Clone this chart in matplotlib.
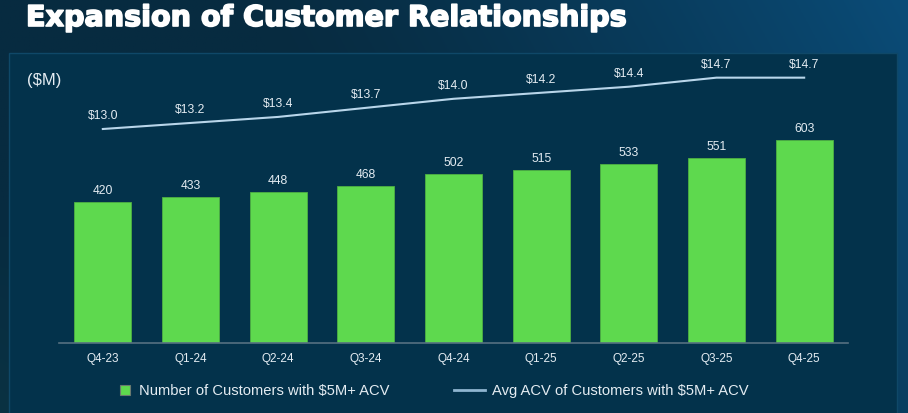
import numpy as np
import matplotlib
matplotlib.use("Agg")
import matplotlib.pyplot as plt
import matplotlib.patheffects as pe
from matplotlib.patches import Rectangle
from matplotlib.lines import Line2D
from matplotlib.colors import to_rgb

# data
quarters = ["Q4-23", "Q1-24", "Q2-24", "Q3-24", "Q4-24", "Q1-25", "Q2-25", "Q3-25", "Q4-25"]
customers = [420, 433, 448, 468, 502, 515, 533, 551, 603]
avg_acv = [13.0, 13.2, 13.4, 13.7, 14.0, 14.2, 14.4, 14.7, 14.7]
legend_labels = ["Number of Customers with $5M+ ACV", "Avg ACV of Customers with $5M+ ACV"]

W, H = 908, 414
green = "#5ed94e"
line_col = "#b9d6ea"
txt_col = "#e4ecf2"
font = "Liberation Sans"

fig = plt.figure(figsize=(W / 100, H / 100), dpi=100)

# background gradient
bg = fig.add_axes([0, 0, 1, 1])
bg.set_axis_off()
yy, xx = np.mgrid[0:1:200j, 0:1:400j]
base = np.array(to_rgb("#072b40"))
light = np.array(to_rgb("#0b5282"))
teal = np.array(to_rgb("#0e3d48"))
f = np.clip((xx - 0.35) * 1.2 + (1 - yy) * 0.3 - 0.2, 0, 1) ** 1.3
g = np.clip((0.25 - xx) * 2, 0, 1) * np.clip(yy - 0.5, 0, 1) * 1.5
img = base[None, None, :] * (1 - f[..., None]) + light[None, None, :] * f[..., None]
img = img * (1 - g[..., None]) + teal[None, None, :] * g[..., None]
bg.imshow(np.clip(img, 0, 1), extent=[0, 1, 0, 1], aspect="auto", origin="upper")
bg.set_xlim(0, 1)
bg.set_ylim(0, 1)

# panel
bg.add_patch(Rectangle((9 / W, -0.01), (897 - 9) / W, (H - 54) / H + 0.01,
                       facecolor="#03324b", edgecolor="#0f4868", lw=1))

title = fig.text(26 / W, 1 - 27 / H, "Expansion of Customer Relationships", color="white",
                 fontsize=18, fontfamily="DejaVu Sans", fontweight="bold",
                 va="baseline", ha="left",
                 path_effects=[pe.withStroke(linewidth=1.2, foreground="white")])
r = fig.canvas.get_renderer()
tw = title.get_window_extent(r).width
title.set_fontsize(18 * 602 / tw)

fig.text(27 / W, 1 - 81 / H, "($M)", color=txt_col, fontsize=12, fontfamily=font,
         va="center", ha="left")

# main axes
ax = fig.add_axes([59 / W, (H - 344) / H, (848 - 59) / W, (344 - 54) / H])
ax.patch.set_alpha(0)
x = np.arange(len(quarters))
bars = ax.bar(x, customers, width=0.65, color=green, edgecolor="#4fb043", lw=0.6, zorder=2)
ax.set_xlim(-0.5, 8.5)
ax.set_ylim(0, 290 / 0.3365)
for s in ["top", "right", "left"]:
    ax.spines[s].set_visible(False)
ax.spines["bottom"].set_color("#557080")
ax.spines["bottom"].set_linewidth(1.2)
ax.set_yticks([])
ax.set_xticks(x)
ax.set_xticklabels(quarters, color=txt_col, fontsize=8.5, fontfamily=font)
ax.tick_params(axis="x", length=0, pad=6.5)
for xi, v in zip(x, customers):
    ax.annotate(str(v), (xi, v), xytext=(0, 8.6), textcoords="offset points",
                ha="center", va="center", color=txt_col, fontsize=8.7, fontfamily=font)

ax2 = ax.twinx()
ax2.set_axis_off()
ax2.set_ylim(13 - 214 / 30.2, 13 + 76 / 30.2)
ax2.plot(x, avg_acv, color=line_col, lw=1.5, zorder=3)
for xi, v in zip(x, avg_acv):
    ax2.annotate(f"${v:.1f}", (xi, v), xytext=(0, 10.1), textcoords="offset points",
                 ha="center", va="center", color=txt_col, fontsize=8.7, fontfamily=font)

# legend, drawn by hand in figure pixels
ly = 1 - 391 / H
fig.patches.append(Rectangle((120 / W, ly - 5 / H), 10 / W, 10 / H, transform=fig.transFigure,
                             facecolor=green, edgecolor="#6a7a70", lw=0.8))
fig.text(139 / W, ly, legend_labels[0], color=txt_col, fontsize=10.6, fontfamily=font,
         va="center", ha="left")
fig.lines.append(Line2D([454 / W, 485 / W], [ly, ly], transform=fig.transFigure,
                        color="#8fb5d0", lw=2))
fig.text(492 / W, ly, legend_labels[1], color=txt_col, fontsize=10.6, fontfamily=font,
         va="center", ha="left")

fig.savefig("out.png", dpi=100, facecolor=fig.get_facecolor())
